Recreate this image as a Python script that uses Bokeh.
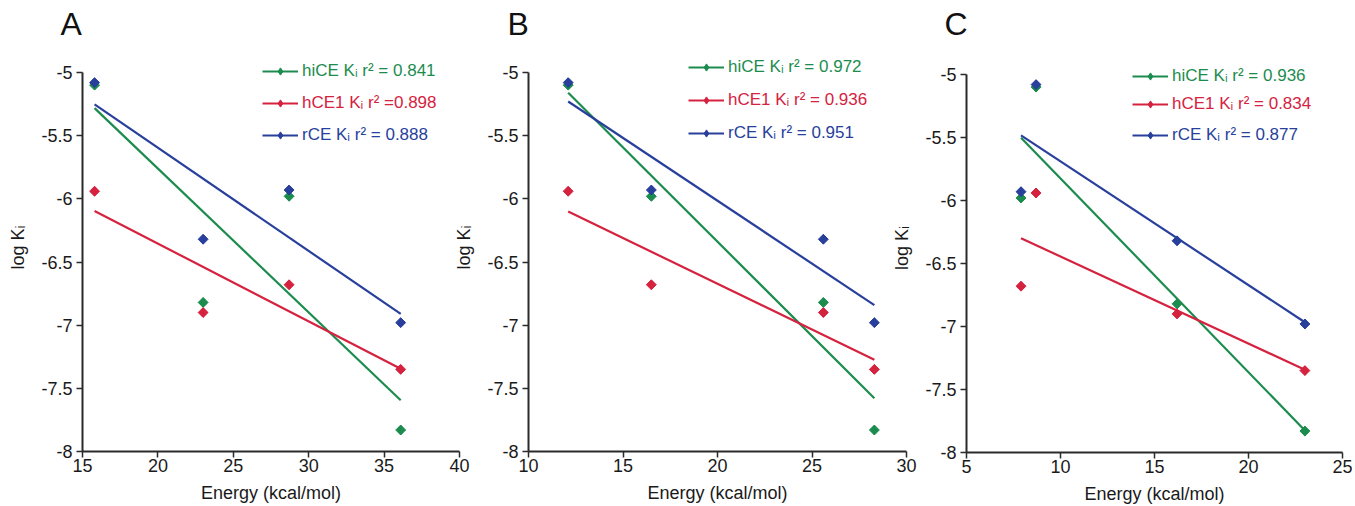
import numpy as np
from bokeh.plotting import figure
from bokeh.layouts import row
from bokeh.models import Legend, LegendItem, NumeralTickFormatter, FixedTicker, Range1d
from bokeh.embed import file_html
from bokeh.resources import INLINE

FONT = "Liberation Sans"

# log Ki values per compound (same four compounds in every panel)
logKi_hiCE = [-5.10, -6.82, -5.98, -7.83]
logKi_hCE1 = [-5.94, -6.90, -6.68, -7.35]
logKi_rCE = [-5.08, -6.32, -5.93, -6.98]

# interaction energies (kcal/mol) for the same compounds, per panel
energy_A = [15.8, 23.0, 28.7, 36.1]
energy_B = [12.1, 25.6, 16.5, 28.3]
energy_C = [8.7, 16.2, 7.9, 23.0]

labels_A = ["hiCE K\u1d62 r\u00b2 = 0.841", "hCE1 K\u1d62 r\u00b2 =0.898", "rCE K\u1d62 r\u00b2 = 0.888"]
labels_B = ["hiCE K\u1d62 r\u00b2 = 0.972", "hCE1 K\u1d62 r\u00b2 = 0.936", "rCE K\u1d62 r\u00b2 = 0.951"]
labels_C = ["hiCE K\u1d62 r\u00b2 = 0.936", "hCE1 K\u1d62 r\u00b2 = 0.834", "rCE K\u1d62 r\u00b2 = 0.877"]

x_ticks_A = [15, 20, 25, 30, 35, 40]
x_ticks_B = [10, 15, 20, 25, 30]
x_ticks_C = [5, 10, 15, 20, 25]
y_ticks = [-8, -7.5, -7, -6.5, -6, -5.5, -5]

series_values = [logKi_hiCE, logKi_hCE1, logKi_rCE]
colors = ["#1c8c4e", "#d5223f", "#283f9c"]

# pixel layout: left border, frame width, right border, frame top, y of -5, y of -8,
# css margin-left, legend x (from frame left), legend row centres, title offset
layouts = [
    dict(bl=82, fw=377, br=15, ft=43, y5=72, y8=451, ml=0, lx=180, rows=[71, 103, 135], toff=-22),
    dict(bl=82, fw=378, br=15, ft=43, y5=72, y8=451, ml=-28, lx=160, rows=[67, 100, 133], toff=-21),
    dict(bl=82, fw=376, br=10, ft=43, y5=74, y8=452, ml=-37, lx=166, rows=[76, 104, 135], toff=-22),
]

panels = [
    ("A", energy_A, x_ticks_A, labels_A),
    ("B", energy_B, x_ticks_B, labels_B),
    ("C", energy_C, x_ticks_C, labels_C),
]

figs = []
for (letter, energy, xt, labels), L in zip(panels, layouts):
    ppu = (L["y8"] - L["y5"]) / (y_ticks[-1] - y_ticks[0])
    fh = L["y8"] - L["ft"]
    y_top = y_ticks[0] + fh / ppu
    p = figure(
        frame_width=L["fw"], frame_height=fh,
        min_border_left=L["bl"], min_border_right=L["br"],
        min_border_top=L["ft"], min_border_bottom=52,
        x_range=Range1d(xt[0], xt[-1]), y_range=Range1d(y_ticks[0], y_top),
        output_backend="svg", toolbar_location=None,
        background_fill_alpha=0, border_fill_alpha=0,
        outline_line_color=None,
    )
    if L["ml"]:
        p.margin = (0, 0, 0, L["ml"])
    p.title.text = letter
    p.title.text_font = FONT
    p.title.text_font_size = "32px"
    p.title.text_font_style = "normal"
    p.title.text_color = "#111111"
    p.title.align = "left"
    p.title.vertical_align = "top"
    p.title.offset = L["toff"]
    p.title.standoff = 0

    p.grid.visible = False
    for ax in (p.xaxis[0], p.yaxis[0]):
        ax.axis_line_color = "#2a2a2a"
        ax.axis_line_width = 2
        ax.major_tick_line_color = "#2a2a2a"
        ax.major_tick_line_width = 1.5
        ax.major_tick_in = 0
        ax.major_tick_out = 6
        ax.minor_tick_line_color = None
        ax.major_label_text_font = FONT
        ax.major_label_text_font_size = "18px"
        ax.major_label_text_color = "#1a1a1a"
        ax.axis_label_text_font = FONT
        ax.axis_label_text_font_size = "18px"
        ax.axis_label_text_font_style = "normal"
        ax.axis_label_text_color = "#1a1a1a"
    p.yaxis.bounds = (y_ticks[0], y_ticks[-1])
    p.xaxis.ticker = FixedTicker(ticks=xt)
    p.yaxis.ticker = FixedTicker(ticks=y_ticks)
    p.yaxis.formatter = NumeralTickFormatter(format="0.[0]")
    p.xaxis.major_label_standoff = 1
    p.yaxis.major_label_standoff = 4
    p.xaxis.axis_label = "Energy (kcal/mol)"
    p.yaxis.axis_label = "log K\u1d62"
    p.xaxis.axis_label_standoff = 8
    p.yaxis.axis_label_standoff = 10

    x = np.array(energy, dtype=float)
    for i, (vals, col, lab) in enumerate(zip(series_values, colors, labels)):
        y = np.array(vals, dtype=float)
        slope, icpt = np.polyfit(x, y, 1)
        xs = np.array([x.min(), x.max()])
        ln = p.line(xs, slope * xs + icpt, line_color=col, line_width=2.2)
        # diamond key (also used by the legend), covered by the square-diamond marks
        key = p.scatter(x, y, marker="diamond", size=9,
                        fill_color=col, line_color=col)
        p.scatter(x, y, marker="square", angle=np.pi / 4, size=7,
                  fill_color=col, line_color=col)
        leg = Legend(
            items=[LegendItem(label=lab, renderers=[ln, key])],
            location=(L["lx"], L["y8"] - L["rows"][i] - 10),
            orientation="vertical",
            padding=0, spacing=0, margin=0,
            glyph_width=36, glyph_height=18, label_height=20,
            label_standoff=4,
            label_text_font=FONT, label_text_font_size="17px",
            label_text_color=col,
            border_line_color=None, background_fill_alpha=0,
        )
        p.add_layout(leg)
    figs.append(p)

layout = row(*figs, spacing=0)
open("out.html", "w").write(file_html(layout, INLINE))
